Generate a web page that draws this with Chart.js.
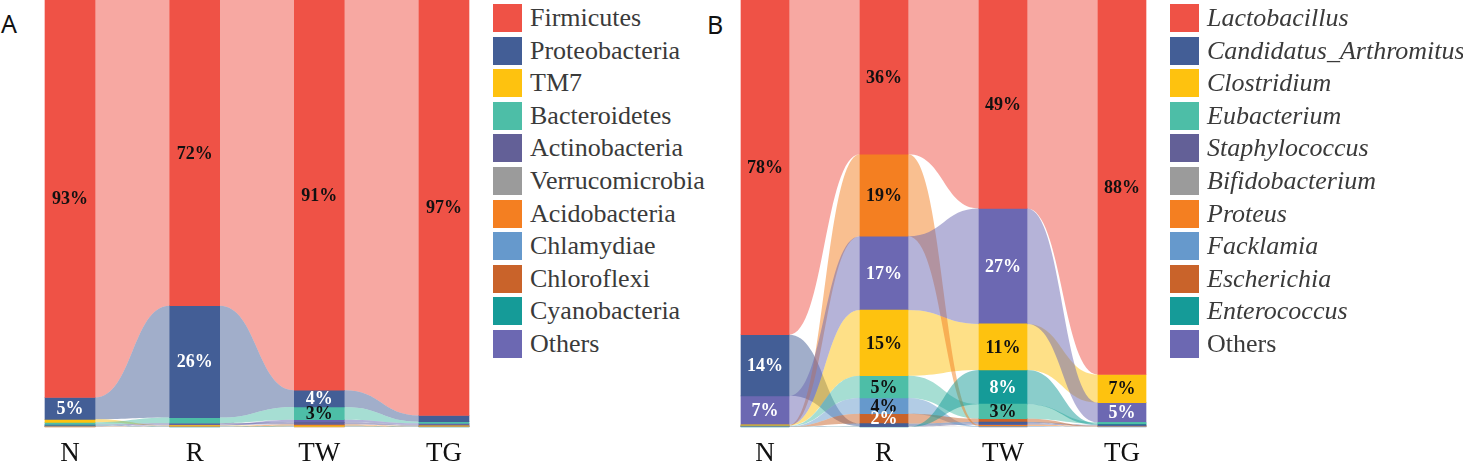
<!DOCTYPE html>
<html>
<head>
<meta charset="utf-8">
<script src="https://cdn.jsdelivr.net/npm/chart.js@4.4.1/dist/chart.umd.min.js"></script>
<style>
  html, body { margin: 0; padding: 0; width: 1463px; height: 464px; overflow: hidden; background: #fff; }
  .panel { position: absolute; top: 0; }
  .tag { position: absolute; font-family: "Noto Sans", sans-serif; font-size: 25px; line-height: 25px; color: #111; }
  .legend { position: absolute; top: 1.7px; font-family: "Liberation Serif", "Times New Roman", serif; font-size: 26px; color: #3a3a3a; }
  .legend.italic .txt { font-style: italic; }
  .legend.italic .txt.plain { font-style: normal; }
  .row { height: 32.6px; display: flex; align-items: center; white-space: nowrap; }
  .sw { width: 29px; height: 28px; margin-right: 8px; flex: none; }
</style>
</head>
<body>
<div class="tag" style="left:1px; top:11px">A</div>
<div class="tag" style="left:707px; top:12px">B</div>
<div class="panel" style="left:0px"><canvas id="chartA" width="480" height="481"></canvas></div>
<div class="panel" style="left:720px"><canvas id="chartB" width="480" height="481"></canvas></div>
<div class="legend" id="legendA" style="left:493px"></div>
<div class="legend italic" id="legendB" style="left:1170px"></div>

<script>
// groups on the x axis
const groups = ['N', 'R', 'TW', 'TG'];

// panel A: phyla
const phyla = ['Firmicutes', 'Proteobacteria', 'TM7', 'Bacteroidetes', 'Actinobacteria',
  'Verrucomicrobia', 'Acidobacteria', 'Chlamydiae', 'Chloroflexi', 'Cyanobacteria', 'Others'];
const phylaN  = [93.1, 5.1, 0.7, 0.5, 0.2, 0.05, 0.05, 0.05, 0.05, 0.1, 0.1];
const phylaR  = [71.6, 26.2, 0.1, 1.3, 0.3, 0.05, 0.05, 0.05, 0.05, 0.05, 0.25];
const phylaTW = [91.4, 3.9, 0.05, 3.0, 0.5, 0.05, 0.3, 0.05, 0.05, 0.1, 0.6];
const phylaTG = [97.3, 1.45, 0.05, 0.4, 0.2, 0.05, 0.05, 0.05, 0.05, 0.05, 0.35];

// panel B: genera
const genera = ['Lactobacillus', 'Candidatus_Arthromitus', 'Clostridium', 'Eubacterium', 'Staphylococcus',
  'Bifidobacterium', 'Proteus', 'Facklamia', 'Escherichia', 'Enterococcus', 'Others'];
const generaN  = [78.4, 14.3, 0.1, 0.05, 0.05, 0.05, 0.1, 0.05, 0.05, 0.05, 6.8];
const generaR  = [36.1, 0.6, 15.4, 5.2, 0.1, 0.05, 19.2, 3.7, 2.3, 0.05, 17.3];
const generaTW = [48.8, 0.3, 10.8, 3.4, 0.3, 0.05, 0.3, 0.2, 0.8, 8.0, 27.05];
const generaTG = [87.7, 0.1, 6.6, 0.3, 0.1, 0.05, 0.1, 0.05, 0.1, 0.3, 4.6];

const colors = ['#ef5246', '#435e96', '#fec20f', '#4dbea7', '#636097', '#9b9b9b',
  '#f47f21', '#6699cc', '#c9632a', '#159b98', '#6c68b2'];
const labelColors = ['#111', '#fff', '#111', '#111', '#fff', '#111',
  '#111', '#111', '#fff', '#fff', '#fff'];

function fade(hex, a) {
  const n = parseInt(hex.slice(1), 16);
  return `rgba(${(n >> 16) & 255},${(n >> 8) & 255},${n & 255},${a})`;
}

// every bar is sorted largest on top; each taxon becomes a floating bar per group
function buildDatasets(names, columns, barWidth) {
  const ranges = names.map(() => []);
  columns.forEach((col, g) => {
    const order = col.map((v, i) => i).sort((a, b) => col[b] - col[a] || a - b);
    let top = 100;
    order.forEach(i => {
      ranges[i][g] = [top - col[i], top];
      top -= col[i];
    });
  });
  return names.map((name, i) => ({
    label: name,
    data: ranges[i],
    shares: columns.map(c => c[i]),
    backgroundColor: colors[i],
    textColor: labelColors[i],
    barThickness: barWidth,
    borderWidth: 0,
    clip: false
  }));
}

// alluvial ribbons between neighbouring bars
const flowPlugin = {
  id: 'flows',
  beforeDatasetsDraw(chart) {
    const ctx = chart.ctx;
    ctx.save();
    chart.data.datasets.forEach((ds, di) => {
      const meta = chart.getDatasetMeta(di);
      for (let g = 0; g < meta.data.length - 1; g++) {
        const a = meta.data[g], b = meta.data[g + 1];
        const x0 = a.x + a.width / 2, x1 = b.x - b.width / 2, xm = (x0 + x1) / 2;
        const t0 = Math.min(a.y, a.base), b0 = Math.max(a.y, a.base);
        const t1 = Math.min(b.y, b.base), b1 = Math.max(b.y, b.base);
        ctx.beginPath();
        ctx.moveTo(x0, t0);
        ctx.bezierCurveTo(xm, t0, xm, t1, x1, t1);
        ctx.lineTo(x1, b1);
        ctx.bezierCurveTo(xm, b1, xm, b0, x0, b0);
        ctx.closePath();
        ctx.fillStyle = fade(ds.backgroundColor, 0.5);
        ctx.fill();
      }
    });
    ctx.restore();
  }
};

// percentage labels inside the segments
const percentPlugin = {
  id: 'percents',
  afterDatasetsDraw(chart) {
    const ctx = chart.ctx;
    ctx.save();
    ctx.font = 'bold 18px "Liberation Serif", "Times New Roman", serif';
    ctx.textAlign = 'center';
    ctx.textBaseline = 'middle';
    chart.data.datasets.forEach((ds, di) => {
      const meta = chart.getDatasetMeta(di);
      meta.data.forEach((el, g) => {
        const pct = Math.round(ds.shares[g]);
        if (pct < 2) return;
        ctx.fillStyle = ds.textColor;
        ctx.fillText(pct + '%', el.x, (el.y + el.base) / 2 + 1);
      });
    });
    ctx.restore();
  }
};

function makeChart(id, names, columns, barWidth, padLeft, padRight) {
  return new Chart(document.getElementById(id), {
    type: 'bar',
    data: { labels: groups, datasets: buildDatasets(names, columns, barWidth) },
    options: {
      responsive: false,
      animation: false,
      layout: { padding: { left: padLeft, right: padRight, top: 0, bottom: 0 } },
      plugins: { legend: { display: false }, tooltip: { enabled: false } },
      scales: {
        x: {
          stacked: true,
          offset: false,
          grid: { display: false, drawTicks: false },
          border: { display: false },
          ticks: {
            color: '#111',
            padding: 10.8,
            font: { family: '"Liberation Serif", "Times New Roman", serif', size: 27, lineHeight: 1.2 }
          }
        },
        y: { stacked: false, display: false, min: 0, max: 100 }
      }
    },
    plugins: [flowPlugin, percentPlugin]
  });
}

function makeLegend(id, names) {
  const box = document.getElementById(id);
  names.forEach((name, i) => {
    const row = document.createElement('div');
    row.className = 'row';
    const sw = document.createElement('div');
    sw.className = 'sw';
    sw.style.background = colors[i];
    const txt = document.createElement('span');
    txt.className = 'txt' + (name === 'Others' ? ' plain' : '');
    txt.textContent = name;
    row.appendChild(sw);
    row.appendChild(txt);
    box.appendChild(row);
  });
}

makeChart('chartA', phyla, [phylaN, phylaR, phylaTW, phylaTG], 50, 70, 36);
makeChart('chartB', genera, [generaN, generaR, generaTW, generaTG], 48, 45, 78);
makeLegend('legendA', phyla);
makeLegend('legendB', genera);
</script>
</body>
</html>
